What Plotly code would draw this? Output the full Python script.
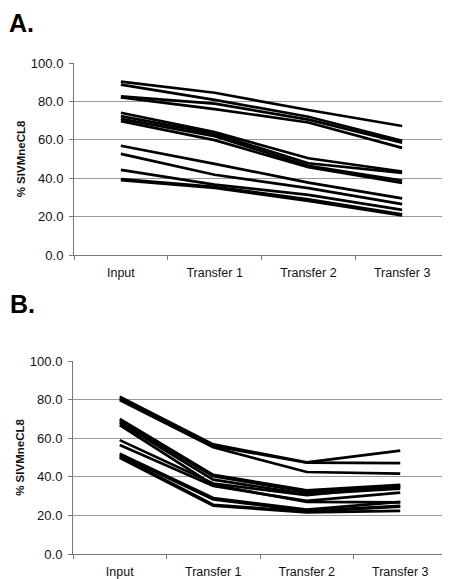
import plotly.graph_objects as go

categories = ["Input", "Transfer 1", "Transfer 2", "Transfer 3"]

panel_a = [
    [90.3, 84.5, 75.5, 67.2],
    [88.7, 80.8, 72.0, 59.5],
    [82.6, 78.8, 70.5, 58.5],
    [82.1, 76.0, 69.0, 55.8],
    [74.1, 64.0, 50.4, 43.5],
    [72.3, 63.1, 47.8, 42.8],
    [70.9, 61.9, 46.4, 38.8],
    [69.7, 59.8, 45.7, 37.6],
    [56.9, 47.5, 37.7, 29.5],
    [52.7, 41.8, 34.8, 26.5],
    [44.3, 36.7, 31.3, 23.5],
    [39.5, 35.5, 29.0, 21.2],
    [39.0, 35.0, 28.2, 20.6],
]

panel_b = [
    [81.5, 56.8, 47.5, 53.6],
    [80.5, 56.0, 47.3, 47.1],
    [79.8, 55.3, 42.5, 41.6],
    [70.0, 41.0, 33.0, 35.8],
    [69.0, 40.3, 32.2, 34.8],
    [68.0, 38.5, 31.0, 33.8],
    [66.8, 35.8, 27.0, 26.8],
    [59.0, 36.5, 30.5, 35.2],
    [56.5, 35.2, 27.5, 31.8],
    [52.0, 29.0, 23.0, 27.0],
    [51.3, 28.3, 22.3, 25.0],
    [50.5, 25.5, 22.0, 24.5],
    [49.8, 25.0, 21.6, 22.3],
]

y_ticks = [0, 20, 40, 60, 80, 100]
y_title = "% SIVMneCL8"
panel_labels = ["A.", "B."]

# page has an 8px body margin, so the figure is sized to fit the window
OFF = 8
W, H = 450 - OFF, 579 - OFF
fig = go.Figure()

for series in panel_a:
    fig.add_trace(go.Scatter(x=categories, y=series, mode="lines",
                             line=dict(color="black", width=2.7),
                             xaxis="x", yaxis="y", showlegend=False))
for series in panel_b:
    fig.add_trace(go.Scatter(x=categories, y=series, mode="lines",
                             line=dict(color="black", width=2.7),
                             xaxis="x2", yaxis="y2", showlegend=False))

fam = "Liberation Sans, Arial, sans-serif"

def xaxis(anchor, domain):
    return dict(domain=domain, anchor=anchor, type="category",
                categoryorder="array", categoryarray=categories,
                range=[-0.5, 3.5], tickson="boundaries", ticks="outside",
                ticklen=4, tickcolor="#777", showline=True, linecolor="#777",
                linewidth=1, showgrid=False, zeroline=False, automargin=False,
                ticklabelstandoff=6,
                tickfont=dict(family=fam, size=12.5, color="#111"), fixedrange=True)

def yaxis(anchor, domain):
    return dict(domain=domain, anchor=anchor, range=[0, 100],
                tickvals=y_ticks, tickformat=".1f", ticks="outside",
                ticklen=4, tickcolor="#777", showline=True, linecolor="#777",
                linewidth=1, showgrid=True, gridcolor="#999", gridwidth=1,
                zeroline=False, automargin=False, ticklabelstandoff=3,
                tickfont=dict(family=fam, size=13, color="#111"),
                title=dict(text="<b>" + y_title + "</b>",
                           font=dict(family=fam, size=11.5, color="#111"),
                           standoff=2))

def px_x(p):
    return (p - OFF) / W

def px_y(p):
    return 1 - (p - OFF) / H

fig.update_layout(
    width=W, height=H,
    margin=dict(l=0, r=0, t=0, b=0, autoexpand=False),
    paper_bgcolor="white", plot_bgcolor="white",
    xaxis=xaxis("y", [px_x(74), px_x(449)]),
    yaxis=yaxis("x", [px_y(255), px_y(63)]),
    xaxis2=xaxis("y2", [px_x(73), px_x(447)]),
    yaxis2=yaxis("x2", [px_y(554), px_y(361)]),
    annotations=[
        dict(text="<b>" + panel_labels[0] + "</b>", x=0, y=1,
             xref="paper", yref="paper", xanchor="left", yanchor="top",
             borderpad=0,
             showarrow=False, font=dict(family=fam, size=25, color="black")),
        dict(text="<b>" + panel_labels[1] + "</b>", x=0, y=px_y(288),
             xref="paper", yref="paper", xanchor="left", yanchor="top",
             showarrow=False, font=dict(family=fam, size=25, color="black")),
    ],
)

fig.write_html("out.html")
